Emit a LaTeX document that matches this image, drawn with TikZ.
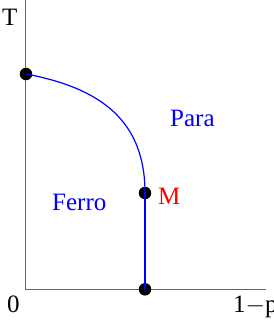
\documentclass[tikz,border=0pt]{standalone}
\usepackage{fontspec}
\setmainfont{Liberation Serif}
\begin{document}
\begin{tikzpicture}[x=1pt,y=-1pt,
  axis/.style={draw=black!60,line width=0.9pt},
  phase/.style={draw=blue,line width=1.2pt},
  dot/.style={circle,fill=black,inner sep=0pt,minimum size=12.5pt},
  lbl/.style={font=\fontsize{25}{25}\selectfont,anchor=base west,inner sep=0pt}]
\useasboundingbox (0,0) rectangle (273,323);
\coordinate (ytop) at (25.5,0);
\coordinate (orig) at (25.5,289.3);
\coordinate (xend) at (266,289.3);
\draw[axis] (ytop) -- (orig) -- (xend);
\node[dot] (tc) at (26,74) {};
\node[dot] (m) at (145,193) {};
\node[dot] (pc) at (145,289.3) {};
\draw[phase] (tc.center) .. controls (100,88) and (145,120) .. (m.center);
\draw[phase] (m.center) -- (pc.center);
\node[lbl] (tl) at (2,26) {T};
\node[lbl] (zl) at (7,312) {0};
\node[lbl] (pl) at (233,312) {1$-$p};
\node[lbl,text=blue] (para) at (170,127) {Para};
\node[lbl,text=blue] (ferro) at (52,210) {Ferro};
\node[lbl,text=red] (ml) at (158,204) {M};
\end{tikzpicture}
\end{document}
